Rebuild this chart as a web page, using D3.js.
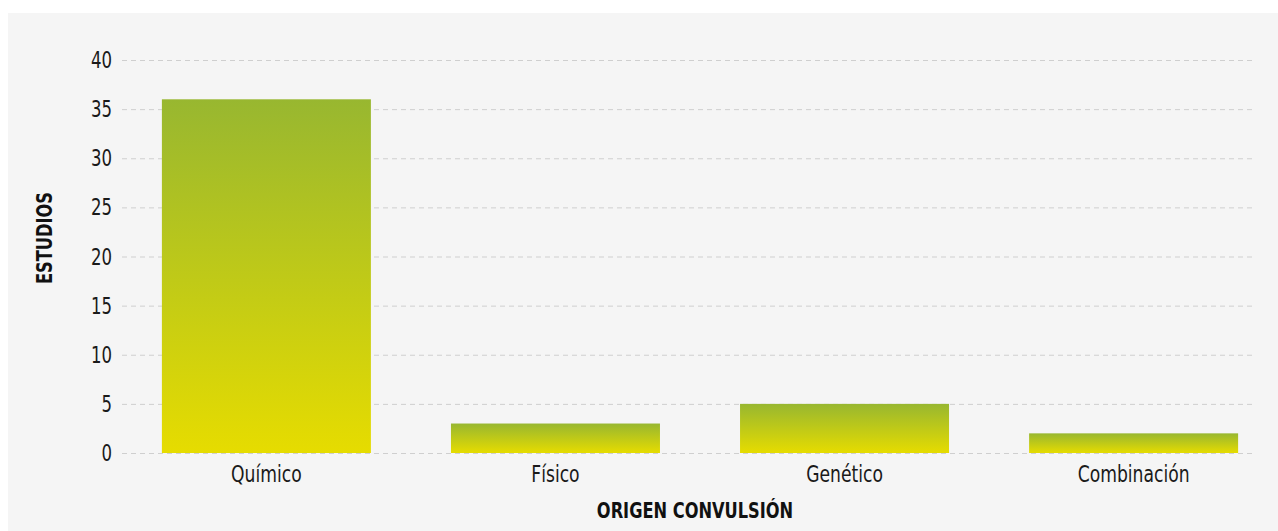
<!DOCTYPE html>
<html><head><meta charset="utf-8">
<script src="https://cdn.jsdelivr.net/npm/d3@7"></script>
<style>
body{margin:0;background:#fff;}
text{font-family:"DejaVu Sans Condensed",sans-serif;}
</style></head>
<body>
<svg id="c" width="1278" height="531"></svg>
<script>
const categories = ["Químico","Físico","Genético","Combinación"];
const values = [36,3,5,2];
const yTicks = [0,5,10,15,20,25,30,35,40];
const xTitle = "ORIGEN CONVULSIÓN";
const yTitle = "ESTUDIOS";

const svg = d3.select("#c");
svg.append("rect").attr("x",8).attr("y",13).attr("width",1270).attr("height",518).attr("fill","#f5f5f5");

const defs = svg.append("defs");
const g = defs.append("linearGradient").attr("id","grad").attr("x1",0).attr("y1",0).attr("x2",0).attr("y2",1);
g.append("stop").attr("offset","0%").attr("stop-color","#98b730");
g.append("stop").attr("offset","100%").attr("stop-color","#e6dc00");

const y = d3.scaleLinear().domain([0,40]).range([453,60]);
const x = d3.scaleBand().domain(categories).range([122,1278]).paddingInner(0.277).paddingOuter(0.138);

// grid
svg.append("g").selectAll("line").data(yTicks).join("line")
  .attr("x1",122).attr("x2",1256)
  .attr("y1",d=>y(d)+0.5).attr("y2",d=>y(d)+0.5)
  .attr("stroke","#cfcfcf").attr("stroke-width",1).attr("stroke-dasharray","5,4");

// y tick labels
svg.append("g").selectAll("text").data(yTicks).join("text")
  .attr("transform",d=>`translate(112,${y(d)}) scale(0.8,1)`).attr("dy","0.35em")
  .attr("text-anchor","end").attr("font-size",23).attr("fill","#1a1a1a")
  .text(d=>d);

// bars
svg.append("g").selectAll("rect").data(values).join("rect")
  .attr("x",(d,i)=>x(categories[i])).attr("width",x.bandwidth())
  .attr("y",d=>y(d)).attr("height",d=>y(0)-y(d))
  .attr("fill","url(#grad)");

// x labels
svg.append("g").selectAll("text").data(categories).join("text")
  .attr("transform",d=>`translate(${x(d)+x.bandwidth()/2},482) scale(0.83,1)`)
  .attr("text-anchor","middle").attr("font-size",23).attr("fill","#1a1a1a")
  .text(d=>d);

svg.append("text").attr("transform","translate(695,518) scale(0.88,1)").attr("text-anchor","middle")
  .attr("font-size",20.5).attr("font-weight","bold").attr("fill","#111").text(xTitle);
svg.append("text").attr("transform","translate(52,238) rotate(-90) scale(0.88,1)").attr("text-anchor","middle")
  .attr("font-size",20.5).attr("font-weight","bold").attr("fill","#111").text(yTitle);
</script>
</body></html>
